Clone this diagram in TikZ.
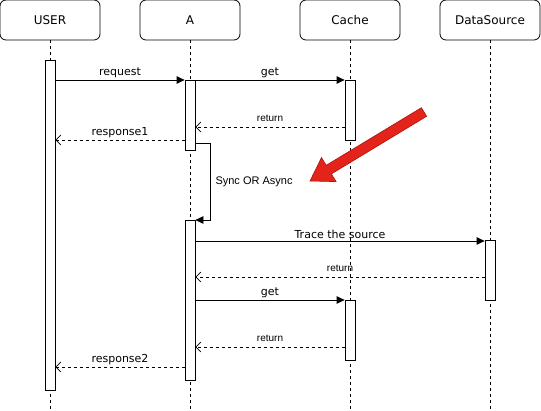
\documentclass[tikz,border=0pt]{standalone}
\usepackage{fontspec}
\setmainfont{DejaVu Sans}
\newfontfamily\labelfont{Liberation Sans}
\usetikzlibrary{arrows.meta}
\definecolor{hintred}{HTML}{E3241A}
\definecolor{hintedge}{HTML}{B0120C}
\tikzset{
	head/.style={draw, line width=0.8pt, rounded corners=6pt, minimum width=100pt, minimum height=40pt, font=\fontsize{12}{14}\selectfont},
	bar/.style={draw, line width=0.8pt, fill=white, minimum width=10pt, inner sep=0pt, anchor=north},
	life/.style={line width=0.7pt, dash pattern=on 3pt off 3pt},
	call/.style={line width=0.8pt, -{Triangle[length=8pt,width=7.5pt]}},
	back/.style={line width=0.7pt, dash pattern=on 3pt off 3pt, -{Straight Barb[length=5pt,width=10pt]}},
	msg/.style={font=\fontsize{11}{13}\selectfont, above, inner sep=2pt},
	ret/.style={font=\labelfont\fontsize{10}{12}\selectfont, above, inner sep=5pt}
}
\begin{document}
\begin{tikzpicture}[x=1pt,y=-1pt]
	\useasboundingbox (0,0) rectangle (541,411);
		\coordinate (Bottom) at (0,411);
		\coordinate (RetOne) at (0,127);
		\coordinate (RespOne) at (0,140);
		\coordinate (SyncRow) at (0,143);
		\coordinate (TraceRow) at (0,241);
		\coordinate (RetTwo) at (0,277);
		\coordinate (RetThree) at (0,347);
		\coordinate (RespTwo) at (0,367);

		\node[head] (user) at (50,20) {USER};
		\node[head] (a) at (190,20) {A};
		\node[head] (cache) at (350,20) {Cache};
		\node[head] (src) at (490,20) {DataSource};

		\foreach \n in {user,a,cache,src}{\draw[life] (\n.south) -- (\n.south |- Bottom);}% lifelines

		\node[bar, minimum height=330pt] (userbar) at (50,60) {};
		\node[bar, minimum height=70pt] (abar1) at (190,80) {};
		\node[bar, minimum height=60pt] (cbar1) at (350,80) {};
		\node[bar, minimum height=160pt] (abar2) at (190,220) {};
		\node[bar, minimum height=60pt] (dbar) at (490,240) {};
		\node[bar, minimum height=60pt] (cbar2) at (350,300) {};

		% first round
		\draw[call] (userbar.east |- abar1.north) -- node[msg] {request} (abar1.north west);
		\draw[call] (abar1.north east) -- node[msg] {get} (cbar1.north west);
		\draw[back] (cbar1.west |- RetOne) -- node[ret] {return} (abar1.east |- RetOne);
		\draw[back] (abar1.west |- RespOne) -- node[msg] {response1} (userbar.east |- RespOne);

		\draw[call] (abar1.east |- SyncRow) -- ++(15,0) |- (abar2.north east);
		\node[anchor=west, font=\labelfont\fontsize{11}{13}\selectfont] (synclabel) at (212,182) {Sync OR Async};

		% second round
		\draw[call] (abar2.east |- TraceRow) -- node[msg] {Trace the source} (dbar.west |- TraceRow);
		\draw[back] (dbar.west |- RetTwo) -- node[ret] {return} (abar2.east |- RetTwo);
		\draw[call] (abar2.east |- cbar2.north) -- node[msg] {get} (cbar2.north west);
		\draw[back] (cbar2.west |- RetThree) -- node[ret] {return} (abar2.east |- RetThree);
		\draw[back] (abar2.west |- RespTwo) -- node[msg] {response2} (userbar.east |- RespTwo);

		% red hint arrow
		\filldraw[fill=hintred, draw=hintedge, line width=0.6pt, line join=miter]
			(421.4,107.7) -- (426.6,116.3) -- (331.4,173.9) -- (336.1,181.6)
			-- (310,181) -- (321.5,157.6) -- (326.2,165.3) -- cycle;
	\end{tikzpicture}
\end{document}
